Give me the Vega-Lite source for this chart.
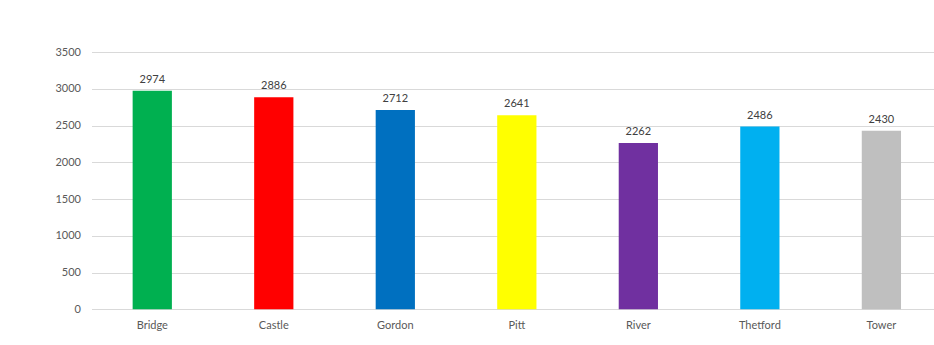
{
  "$schema": "https://vega.github.io/schema/vega-lite/v6.json",
  "autosize": "none",
  "width": 842.5,
  "height": 257.3,
  "padding": {"left": 91.5, "top": 52, "right": 0, "bottom": 35.7},
  "background": "white",
  "config": {"view": {"stroke": null}, "font": "Lato"},
  "data": {"values": [
    {"site": "Bridge", "value": 2974, "color": "#00b050"},
    {"site": "Castle", "value": 2886, "color": "#ff0000"},
    {"site": "Gordon", "value": 2712, "color": "#0070c0"},
    {"site": "Pitt", "value": 2641, "color": "#ffff00"},
    {"site": "River", "value": 2262, "color": "#7030a0"},
    {"site": "Thetford", "value": 2486, "color": "#00b0f0"},
    {"site": "Tower", "value": 2430, "color": "#bfbfbf"}
  ]},
  "encoding": {
    "x": {"field": "site", "type": "nominal", "sort": null,
      "scale": {"paddingInner": 0.677, "paddingOuter": 0.305, "align": 0.555},
      "axis": {"title": null, "labelAngle": 0, "ticks": false, "domain": false, "grid": false,
        "labelFont": "Lato", "labelFontSize": 11, "labelColor": "#595959", "labelPadding": 10}},
    "y": {"field": "value", "type": "quantitative",
      "scale": {"domain": [0, 3500], "nice": false},
      "axis": {"title": null, "values": [0, 500, 1000, 1500, 2000, 2500, 3000, 3500], "format": "d",
        "ticks": false, "domain": false, "gridColor": "#d9d9d9", "gridWidth": 1,
        "labelFont": "Lato", "labelFontSize": 11, "labelColor": "#595959", "labelPadding": 11}}
  },
  "layer": [
    {"mark": {"type": "bar"}, "encoding": {"color": {"field": "color", "type": "nominal", "scale": null}}},
    {"mark": {"type": "text", "baseline": "bottom", "dy": -6, "font": "Lato", "fontSize": 11, "color": "#404040"},
      "encoding": {"text": {"field": "value", "type": "quantitative", "format": "d"}}}
  ]
}
